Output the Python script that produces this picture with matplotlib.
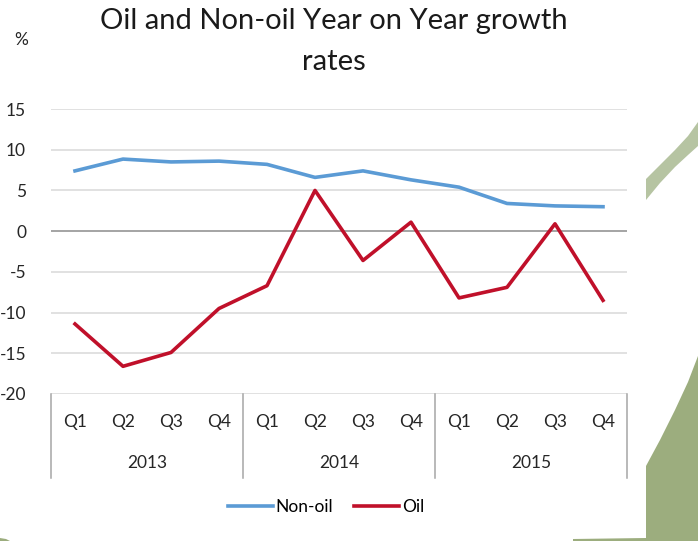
import matplotlib
matplotlib.use("Agg")
import matplotlib.pyplot as plt
from matplotlib.patches import Polygon
from matplotlib.transforms import blended_transform_factory

plt.rcParams['font.family'] = ['Lato', 'DejaVu Sans']

# data (% year on year)
quarters = ['Q1', 'Q2', 'Q3', 'Q4'] * 3
years = ['2013', '2014', '2015']
non_oil = [7.4, 8.85, 8.5, 8.6, 8.2, 6.6, 7.4, 6.3, 5.4, 3.4, 3.1, 3.0]
oil = [-11.4, -16.6, -14.9, -9.5, -6.7, 5.0, -3.6, 1.1, -8.2, -6.9, 0.9, -8.5]
y_ticks = [15, 10, 5, 0, -5, -10, -15, -20]

W, H = 698, 541
fig = plt.figure(figsize=(W / 100, H / 100), dpi=100)
fig.patch.set_facecolor('white')


def px(points):
    # pixel coords (top-left origin) -> figure fraction
    return [(x / W, 1 - y / H) for x, y in points]


# green decoration on the right edge
band = px([(646, 179), (660, 165), (675, 150), (688, 136), (698, 122),
           (698, 146), (688, 155), (675, 167), (660, 183), (646, 200)])
fig.patches.append(Polygon(band, closed=True, transform=fig.transFigure,
                           facecolor='#b6c4a2', edgecolor='none'))
big = px([(646, 466), (660, 440), (675, 410), (688, 382), (698, 356),
          (698, 541), (646, 541)])
fig.patches.append(Polygon(big, closed=True, transform=fig.transFigure,
                           facecolor='#9cad7e', edgecolor='none'))
strip = px([(573, 539), (646, 538), (646, 541), (573, 541)])
fig.patches.append(Polygon(strip, closed=True, transform=fig.transFigure,
                           facecolor='#9cad7e', edgecolor='none'))
corner = px([(0, 538), (6, 539), (10, 541), (0, 541)])
fig.patches.append(Polygon(corner, closed=True, transform=fig.transFigure,
                           facecolor='#9cad7e', edgecolor='none'))

ax = fig.add_axes([51 / W, 1 - 394 / H, (627 - 51) / W, (394 - 109) / H])
x = list(range(len(quarters)))

for t in y_ticks:
    if t == 0:
        ax.axhline(t, color='#8c8c8c', lw=1.1, zorder=1)
    else:
        ax.axhline(t, color='#d9d9d9', lw=1.1, zorder=1)

ax.plot(x, non_oil, color='#5b9bd5', lw=2.6, label='Non-oil', zorder=3)
ax.plot(x, oil, color='#c0102a', lw=2.6, label='Oil', zorder=3)

ax.set_xlim(-0.5, 11.5)
ax.set_ylim(-20, 15)
ax.set_yticks(y_ticks)
ax.set_yticklabels([str(t) for t in y_ticks], fontsize=12.5, color='#262626')
ax.tick_params(axis='y', length=0, pad=18)
ax.set_xticks([])
for s in ax.spines.values():
    s.set_visible(False)

# two-level category axis
trans = blended_transform_factory(ax.transData, ax.transAxes)
for i, q in enumerate(quarters):
    ax.text(i, -0.098, q, transform=trans, ha='center', va='center',
            fontsize=12.5, color='#262626')
for j, yr in enumerate(years):
    ax.text(j * 4 + 1.5, -0.242, yr, transform=trans, ha='center', va='center',
            fontsize=12.5, color='#262626')
for b in [-0.5, 3.5, 7.5, 11.5]:
    ax.plot([b, b], [0, -0.295], transform=trans, color='#a6a6a6', lw=1.1,
            clip_on=False)

ax.legend(loc='center', bbox_to_anchor=(326 / W, 1 - 507 / H),
          bbox_transform=fig.transFigure, ncol=2, frameon=False,
          fontsize=12.5, handlelength=2.6, handletextpad=0.15,
          columnspacing=1.2)

fig.text(334 / W, 1 - 21 / H, 'Oil and Non-oil Year on Year growth',
         ha='center', va='center', fontsize=21, color='#1a1a1a')
fig.text(334 / W, 1 - 62 / H, 'rates', ha='center', va='center',
         fontsize=21, color='#1a1a1a')
fig.text(21 / W, 1 - 40 / H, '%', ha='center', va='center',
         fontsize=12.5, color='#262626')

fig.savefig('out.png', dpi=100, facecolor=fig.get_facecolor())
